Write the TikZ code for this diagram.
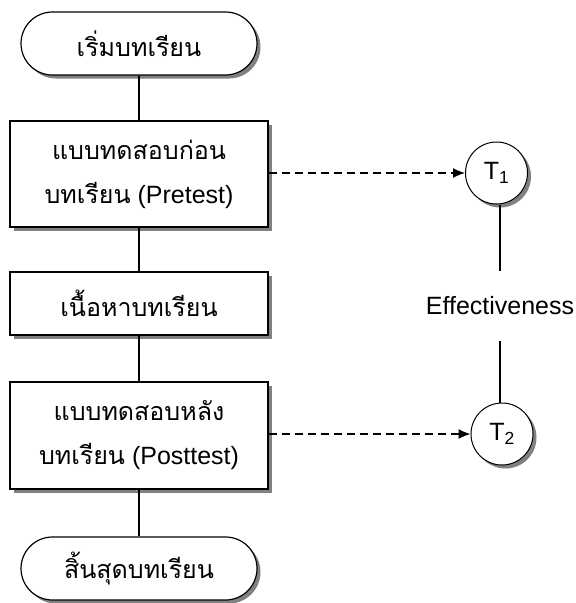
\documentclass[tikz,border=0pt]{standalone}
\usepackage{fontspec}
\setmainfont{Liberation Sans}
\newfontfamily\thai[Script=Thai]{Loma}
\usetikzlibrary{shadows,arrows.meta}
\begin{document}
\begin{tikzpicture}[x=1pt,y=-1pt,
  shd/.style={drop shadow={shadow xshift=3.5pt,shadow yshift=-3.5pt,fill=black!50,opacity=1}},
  term/.style={shd,draw,fill=white,line width=1.2pt,minimum width=236pt,minimum height=63pt,rounded corners=31.5pt,font=\fontsize{25}{30}\selectfont\thai,inner sep=0pt},
  procbox/.style={shd,draw,fill=white,line width=1.3pt,minimum width=258pt,font=\fontsize{25}{44}\selectfont,align=center,inner sep=0pt},
  tcirc/.style={shd,draw,fill=white,circle,line width=1pt,minimum size=62pt,inner sep=0pt,font=\fontsize{25}{30}\selectfont},
  link/.style={line width=1.2pt},
  dlink/.style={line width=1.3pt,dash pattern=on 8pt off 5pt,-{Latex[length=12pt,width=10pt]}}]
\useasboundingbox (0,0) rectangle (576,603);
\node[term] (start) at (139,43.5) {เริ่มบทเรียน};
\node[procbox,minimum height=106pt] (pre) at (139,174) {{\thai แบบทดสอบก่อน}\\{\thai บทเรียน} (Pretest)};
\node[procbox,minimum height=63pt,font=\fontsize{25}{30}\selectfont\thai] (content) at (139,303.5) {เนื้อหาบทเรียน};
\node[procbox,minimum height=107pt] (post) at (139,435.5) {{\thai แบบทดสอบหลัง}\\{\thai บทเรียน} (Posttest)};
\node[term] (stop) at (139,568.5) {สิ้นสุดบทเรียน};
\node[tcirc] (t1) at (496.5,173) {T\textsubscript{1}};
\node[tcirc] (t2) at (502,434) {T\textsubscript{2}};
\node[minimum height=70pt,inner sep=0pt,font=\fontsize{25}{30}\selectfont] (eff) at (500,306) {Effectiveness};
\draw[link] (start) -- (pre);
\draw[link] (pre) -- (content);
\draw[link] (content) -- (post);
\draw[link] (post) -- (stop);
\draw[dlink] (pre.east |- t1.west) -- (t1.west);
\draw[dlink] (post.east |- t2.west) -- (t2.west);
\draw[link] (eff.north) -- (eff.north |- t1.south);
\draw[link] (eff.south) -- (eff.south |- t2.north);
\end{tikzpicture}
\end{document}
